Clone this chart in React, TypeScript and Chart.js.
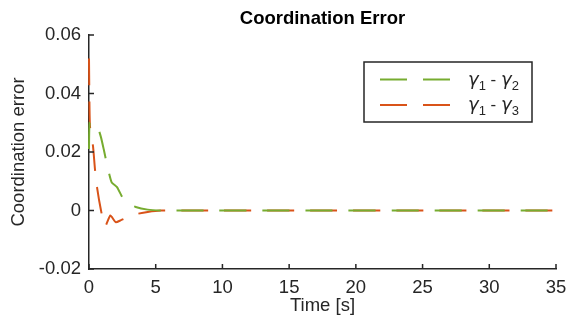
import React, { useEffect, useRef } from "react";
import { Chart, registerables } from "chart.js";

Chart.register(...registerables);

const tGreen = [0, 0.05, 0.3, 0.5, 0.7, 0.9, 1.1, 1.35, 1.7, 2.1, 2.7, 3.5, 4.4, 5.5, 8, 35];
const green = [0.021, 0.030, 0.0305, 0.030, 0.028, 0.025, 0.021, 0.0157, 0.0096, 0.008, 0.003, 0.0012, 0.0003, 0, 0, 0];

const tOrange = [0, 0.07, 0.3, 0.45, 0.6, 0.9, 1.2, 1.6, 2.0, 2.4, 3.4, 4.4, 5.4, 8, 35];
const orange = [0.052, 0.029, 0.022, 0.014, 0.008, 0.0, -0.0055, -0.0017, -0.004, -0.0033, -0.0014, -0.0005, 0, 0, 0];

const xTicks = [0, 5, 10, 15, 20, 25, 30, 35];
const yTicks = [-0.02, 0, 0.02, 0.04, 0.06];

const GREEN = "#77AC30";
const ORANGE = "#D95319";
const AXIS = "#262626";
const FONT = "'Liberation Sans', Arial, Helvetica, sans-serif";
const FS = 18.5;

const decor = {
  id: "decor",
  afterDraw(chart: any) {
    const { ctx, chartArea: a, scales } = chart;
    const x = scales.x, y = scales.y;
    ctx.save();
    ctx.strokeStyle = AXIS;
    ctx.lineWidth = 1.5;
    ctx.beginPath();
    xTicks.forEach((v) => {
      const px = x.getPixelForValue(v);
      ctx.moveTo(px, a.bottom);
      ctx.lineTo(px, a.bottom - 5);
    });
    yTicks.forEach((v) => {
      const py = y.getPixelForValue(v);
      ctx.moveTo(a.left, py);
      ctx.lineTo(a.left + 5, py);
    });
    ctx.stroke();

    // title
    ctx.fillStyle = "#000";
    ctx.font = `bold ${FS}px ${FONT}`;
    ctx.textAlign = "center";
    ctx.textBaseline = "middle";
    ctx.fillText("Coordination Error", (a.left + a.right) / 2, 19);

    // axis titles
    ctx.fillStyle = AXIS;
    ctx.font = `${FS}px ${FONT}`;
    ctx.fillText("Time [s]", (a.left + a.right) / 2, 306);
    ctx.save();
    ctx.translate(19, (a.top + a.bottom) / 2);
    ctx.rotate(-Math.PI / 2);
    ctx.fillText("Coordination error", 0, 0);
    ctx.restore();

    // legend
    const bx = 364, by = 62, bw = 168, bh = 60;
    ctx.fillStyle = "#fff";
    ctx.fillRect(bx, by, bw, bh);
    ctx.strokeStyle = AXIS;
    ctx.lineWidth = 1.5;
    ctx.strokeRect(bx, by, bw, bh);
    const rows = [
      { c: GREEN, s: "2", yy: 79.5 },
      { c: ORANGE, s: "3", yy: 105 },
    ];
    rows.forEach((r) => {
      ctx.strokeStyle = r.c;
      ctx.lineWidth = 2;
      ctx.setLineDash([27, 16]);
      ctx.beginPath();
      ctx.moveTo(380, r.yy);
      ctx.lineTo(450, r.yy);
      ctx.stroke();
      ctx.setLineDash([]);
      ctx.fillStyle = AXIS;
      ctx.textAlign = "left";
      ctx.textBaseline = "alphabetic";
      let cx = 468;
      const base = r.yy + 5;
      const g = `italic 18px 'DejaVu Sans', sans-serif`;
      const sub = `13px ${FONT}`;
      const norm = `17px ${FONT}`;
      ctx.font = g; ctx.fillText("γ", cx, base); cx += ctx.measureText("γ").width;
      ctx.font = sub; ctx.fillText("1", cx, base + 5); cx += ctx.measureText("1").width;
      ctx.font = norm; ctx.fillText(" - ", cx, base); cx += ctx.measureText(" - ").width;
      ctx.font = g; ctx.fillText("γ", cx, base); cx += ctx.measureText("γ").width;
      ctx.font = sub; ctx.fillText(r.s, cx, base + 5);
    });
    ctx.restore();
  },
};

export default function App() {
  const ref = useRef<HTMLCanvasElement | null>(null);
  useEffect(() => {
    if (!ref.current) return;
    const chart = new Chart(ref.current, {
      type: "line",
      data: {
        datasets: [
          {
            label: "γ1 - γ2",
            data: tGreen.map((t, i) => ({ x: t, y: green[i] })),
            borderColor: GREEN,
            borderWidth: 2,
            borderDash: [27, 16],
            pointRadius: 0,
            tension: 0.2,
            fill: false,
            clip: false as any,
          },
          {
            label: "γ1 - γ3",
            data: tOrange.map((t, i) => ({ x: t, y: orange[i] })),
            borderColor: ORANGE,
            borderWidth: 2,
            borderDash: [27, 16],
            pointRadius: 0,
            tension: 0.2,
            fill: false,
            clip: false as any,
          },
        ],
      },
      options: {
        animation: false,
        responsive: false,
        layout: { padding: { left: 0, top: 35, right: 0, bottom: 0 } },
        plugins: { legend: { display: false }, title: { display: false }, tooltip: { enabled: false } },
        scales: {
          x: {
            type: "linear",
            min: 0,
            max: 35,
            grid: { display: false, drawTicks: false },
            border: { display: true, color: AXIS, width: 1.5 },
            ticks: {
              stepSize: 5,
              padding: 8,
              color: AXIS,
              font: { family: FONT, size: FS },
              maxRotation: 0,
              callback: (v: any) => String(v),
            },
            afterFit: (s: any) => { s.height = 55; s.paddingRight = 10; },
          },
          y: {
            type: "linear",
            min: -0.02,
            max: 0.06,
            grid: { display: false, drawTicks: false },
            border: { display: true, color: AXIS, width: 1.5 },
            ticks: {
              stepSize: 0.02,
              padding: 8,
              color: AXIS,
              font: { family: FONT, size: FS },
              callback: (v: any) => (Math.abs(v) < 1e-9 ? "0" : Number(v).toFixed(2)),
            },
            afterFit: (s: any) => { s.width = 89; },
          },
        },
      },
      plugins: [decor],
    });
    return () => chart.destroy();
  }, []);
  return (
    <div style={{ position: "absolute", left: 0, top: 0, width: 566, height: 324, background: "#fff" }}>
      <canvas ref={ref} width={566} height={324} />
    </div>
  );
}
